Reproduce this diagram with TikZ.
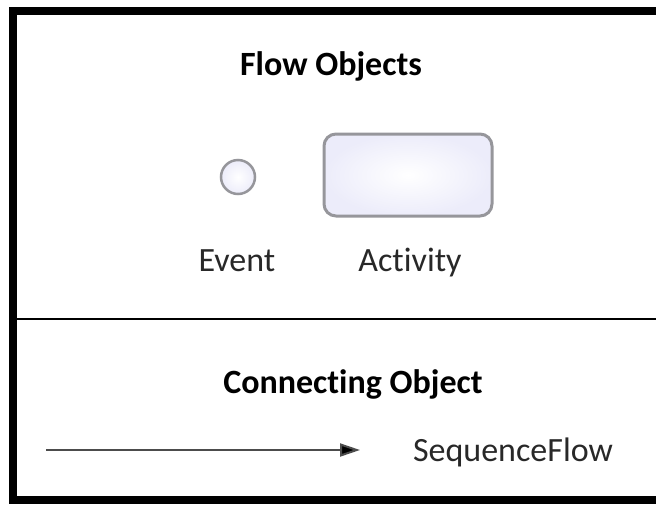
\documentclass[tikz,border=0pt]{standalone}
\usepackage{fontspec}
\setmainfont{Carlito}[Ligatures=NoCommon]
\usepackage{tikz}
\usetikzlibrary{positioning,arrows.meta}
\definecolor{lineGray}{RGB}{150,150,155}
\definecolor{fillLav}{RGB}{236,236,250}
\definecolor{textGray}{RGB}{40,40,40}

\begin{document}
\begin{tikzpicture}[x=1pt,y=-1pt,font=\fontsize{34}{40}\selectfont,text=textGray]
% Styles for the frame, the shapes and the labels
\tikzstyle{frame line}=[line width=8pt,black];
\tikzstyle{event node}=[circle,draw=lineGray,line width=2.5pt,inner color=white,outer color=fillLav,minimum size=34pt,inner sep=0];
\tikzstyle{activity node}=[rectangle,rounded corners=12pt,draw=lineGray,line width=3pt,inner color=white,outer color=fillLav,minimum width=168pt,minimum height=82pt];
\tikzstyle{label text}=[anchor=base,inner sep=0];
\tikzstyle{title}=[label text,font=\fontsize{34}{40}\selectfont\bfseries,text=black];
\useasboundingbox (0,0) rectangle (656,504);
% The frame
\coordinate (tl) at (13,11);
\coordinate (tr) at (660,11);
\coordinate (bl) at (13,500);
\coordinate (br) at (660,500);
\draw[frame line] (tr) -- (tl) -- (bl) -- (br);
\coordinate (ml) at (13,319);
\coordinate (mr) at (660,319);
\draw[line width=2pt] (ml) -- (mr);
% Flow objects
\node[title](flow) at (331,75){Flow Objects};
\node[event node](event) at (238,177){};
\node[activity node](activity) at (408,175){};
\node[label text](eventlbl) at (237,271){Event};
\node[label text](activitylbl) at (410,271){Activity};
% Connecting object
\node[title](conn) at (353,393){Connecting Object};
\coordinate (start) at (46,450);
\node[label text](seqflow) at (513,461){SequenceFlow};
\coordinate (stop) at (360,450);
\draw[line width=2pt,draw=black!70,-{Triangle[length=20pt,width=13pt,fill=black]}] (start) -- (stop);
\end{tikzpicture}
\end{document}
